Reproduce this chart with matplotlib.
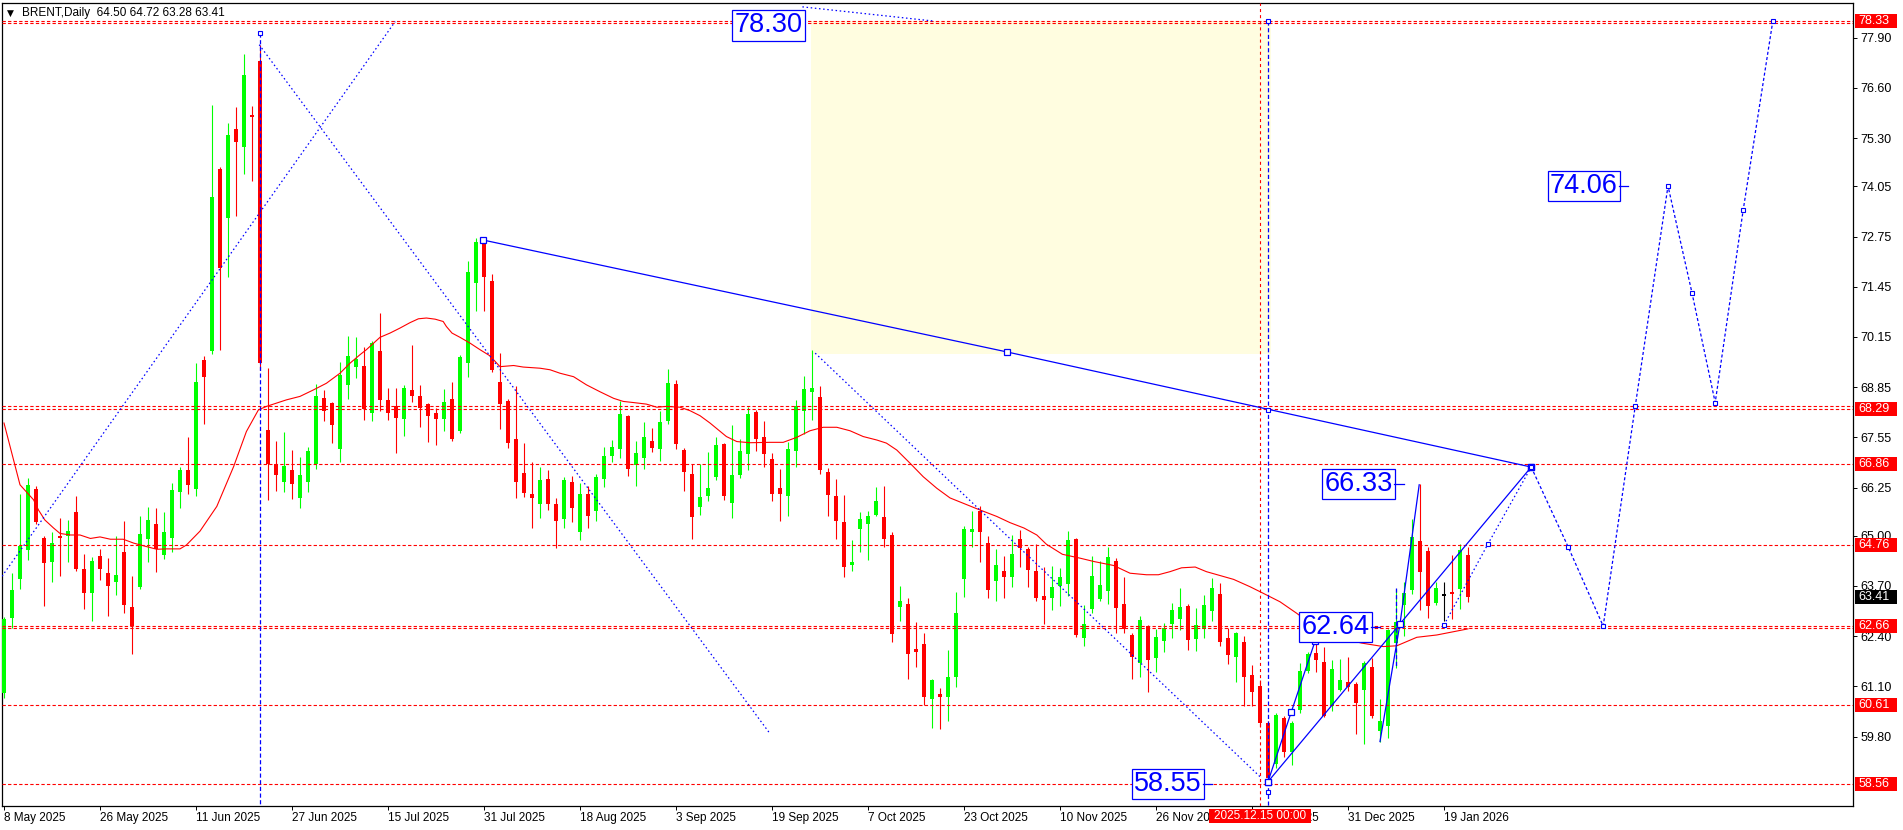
import numpy as np
import pandas as pd
import matplotlib
matplotlib.use("Agg")
import matplotlib.pyplot as plt
from matplotlib.patches import Rectangle

plt.rcParams['font.family'] = ['Liberation Sans', 'DejaVu Sans']
plt.rcParams['lines.scale_dashes'] = False

# ---------------- data ----------------
opens = [60.93, 62.88, 63.88, 64.63, 66.21, 64.94, 64.33, 64.99, 64.99, 65.62,
         64.14, 63.53, 64.48, 64.04, 63.81, 64.59, 63.16, 63.66, 64.92, 65.31,
         64.49, 64.95, 66.14, 66.71, 66.21, 69.56, 69.79, 74.50, 73.24, 75.54,
         75.08, 75.90, 77.31, 67.74, 66.86, 66.38, 66.71, 65.99, 66.38, 66.86,
         68.56, 68.43, 67.25, 68.91, 69.36, 69.40, 68.17, 69.79, 68.52, 68.36,
         68.03, 68.78, 68.61, 68.41, 68.17, 68.03, 68.55, 67.72, 69.48, 71.56,
         72.62, 71.60, 68.97, 68.49, 67.51, 66.62, 66.08, 65.83, 66.47, 65.83,
         65.43, 66.39, 65.11, 66.08, 65.63, 66.47, 67.07, 67.24, 68.09, 66.82,
         67.02, 67.46, 67.24, 67.96, 68.93, 67.22, 66.60, 65.74, 66.04, 66.53,
         67.38, 65.86, 66.58, 67.12, 68.20, 67.55, 66.99, 66.25, 66.04, 67.20,
         68.22, 68.73, 68.59, 66.65, 66.04, 65.35, 64.23, 65.17, 65.31, 65.54,
         65.48, 65.02, 63.15, 63.23, 62.07, 62.20, 60.77, 60.90, 60.82, 61.35,
         63.87, 65.11, 65.64, 64.81, 63.83, 64.09, 63.92, 64.92, 64.66, 64.09,
         63.45, 63.40, 63.71, 63.75, 64.92, 62.36, 63.11, 63.36, 63.57, 64.35,
         63.23, 62.43, 61.71, 62.65, 61.84, 62.28, 62.72, 62.85, 63.19, 62.33,
         62.58, 63.05, 63.49, 62.35, 61.87, 62.24, 61.40, 61.11, 60.16, 59.08,
         60.29, 59.41, 60.49, 61.50, 61.96, 61.74, 60.59, 61.01, 61.22, 61.16,
         61.01, 61.59, 59.93, 60.08, 62.22, 63.21, 63.60, 64.87, 64.61, 63.25,
         63.45, 63.54, 63.62, 64.50]
highs = [62.90, 64.04, 66.08, 66.50, 66.30, 65.00, 65.09, 65.45, 65.41, 66.04,
         64.53, 64.44, 64.65, 64.42, 64.99, 65.38, 63.96, 65.52, 65.75, 65.72,
         65.62, 66.36, 66.79, 67.55, 69.48, 69.66, 76.16, 74.55, 75.70, 76.10,
         77.48, 76.14, 77.72, 69.34, 67.46, 67.70, 67.21, 67.05, 67.31, 68.93,
         68.78, 68.47, 69.51, 70.18, 70.16, 69.90, 70.05, 70.77, 68.82, 68.84,
         68.91, 69.94, 68.91, 68.45, 68.30, 68.80, 68.97, 69.69, 72.12, 72.71,
         72.70, 71.78, 69.74, 68.55, 68.88, 67.41, 66.90, 66.77, 66.71, 65.99,
         66.53, 66.56, 66.36, 66.30, 66.60, 67.29, 67.48, 68.49, 68.12, 67.46,
         67.94, 67.80, 68.22, 69.32, 69.04, 67.27, 66.85, 66.85, 67.16, 67.55,
         67.41, 67.87, 67.50, 68.33, 68.25, 67.98, 67.15, 66.73, 67.44, 68.52,
         69.15, 69.82, 68.88, 66.75, 66.47, 66.06, 64.89, 65.61, 65.65, 66.26,
         66.29, 65.11, 63.70, 63.38, 62.76, 62.49, 61.29, 61.05, 62.04, 63.54,
         65.25, 65.63, 65.76, 65.00, 64.66, 64.48, 65.02, 65.15, 64.70, 64.78,
         64.20, 64.22, 64.17, 65.13, 64.95, 63.21, 64.48, 64.35, 64.70, 64.43,
         63.92, 62.49, 62.92, 62.69, 62.58, 62.73, 63.25, 63.64, 63.23, 63.12,
         63.47, 63.90, 63.77, 62.60, 62.50, 62.41, 61.65, 61.27, 60.20, 60.42,
         60.32, 60.19, 61.70, 62.00, 62.22, 62.13, 61.78, 61.80, 61.87, 61.22,
         61.76, 61.84, 60.77, 62.58, 63.62, 63.79, 65.43, 66.33, 64.72, 63.81,
         63.81, 64.49, 64.79, 64.72]
lows = [60.80, 62.61, 63.62, 64.36, 65.30, 63.17, 63.79, 63.97, 64.33, 64.10,
        63.10, 62.80, 63.86, 62.93, 63.47, 62.99, 61.93, 63.62, 64.32, 64.07,
        64.39, 64.59, 65.73, 66.09, 66.04, 67.89, 69.70, 69.82, 71.71, 73.27,
        74.37, 74.20, 69.30, 65.93, 66.17, 66.14, 65.95, 65.73, 66.14, 66.72,
        67.98, 67.41, 66.92, 68.55, 69.08, 68.00, 67.96, 68.23, 68.00, 67.15,
        67.59, 68.47, 67.83, 67.44, 67.34, 67.72, 67.45, 67.65, 69.12, 70.81,
        70.83, 69.25, 67.77, 67.28, 65.99, 66.01, 65.21, 65.47, 65.67, 64.69,
        65.21, 65.35, 64.89, 65.21, 65.37, 66.26, 66.90, 67.02, 66.55, 66.30,
        66.72, 67.16, 66.94, 67.89, 67.24, 66.17, 64.91, 65.55, 65.90, 66.45,
        65.93, 65.47, 66.50, 66.71, 67.20, 66.78, 65.90, 65.38, 65.51, 66.77,
        67.63, 68.00, 66.60, 65.51, 64.92, 63.92, 64.09, 64.59, 64.36, 65.50,
        64.70, 62.24, 62.80, 61.28, 61.59, 60.62, 60.01, 59.99, 60.19, 61.09,
        63.42, 64.72, 64.33, 63.40, 63.31, 63.40, 63.68, 64.20, 63.68, 63.31,
        62.72, 63.08, 63.19, 63.45, 62.39, 62.15, 62.99, 63.31, 63.23, 62.49,
        62.49, 61.29, 61.33, 60.95, 61.48, 62.00, 62.36, 62.56, 62.04, 62.02,
        62.36, 62.78, 62.15, 61.67, 61.20, 60.59, 60.59, 60.05, 58.55, 58.98,
        59.28, 59.06, 60.40, 61.45, 61.48, 60.31, 60.46, 60.99, 60.99, 59.86,
        59.61, 60.27, 59.67, 59.76, 61.57, 62.41, 63.50, 63.08, 62.88, 63.20,
        62.80, 62.84, 63.10, 63.28]
closes = [62.85, 63.60, 64.74, 66.32, 65.35, 64.30, 64.82, 64.93, 65.12, 64.14,
          63.53, 64.35, 64.13, 63.71, 63.99, 63.21, 62.67, 65.05, 65.41, 64.65,
          65.10, 66.19, 66.71, 66.32, 68.97, 69.12, 73.78, 71.93, 75.38, 75.19,
          76.94, 75.85, 69.47, 66.85, 66.57, 66.81, 66.34, 66.58, 67.20, 68.62,
          68.22, 67.87, 69.17, 69.66, 69.57, 68.29, 70.00, 68.52, 68.19, 68.06,
          68.82, 68.61, 68.32, 68.11, 68.03, 68.46, 67.51, 69.62, 71.84, 72.62,
          71.71, 69.30, 68.41, 67.41, 66.38, 66.10, 65.99, 66.45, 65.82, 65.39,
          66.45, 65.71, 66.08, 65.52, 66.52, 67.07, 67.29, 68.15, 66.72, 67.14,
          67.55, 67.28, 67.94, 68.95, 67.37, 66.64, 65.48, 66.00, 66.23, 67.35,
          66.03, 66.58, 67.20, 68.16, 67.51, 67.12, 66.08, 66.07, 67.25, 68.35,
          68.80, 68.83, 66.71, 66.06, 65.39, 64.20, 64.31, 65.43, 65.51, 65.90,
          64.91, 62.45, 63.31, 61.93, 62.00, 60.82, 61.27, 60.82, 61.34, 62.99,
          65.17, 65.17, 65.11, 63.60, 64.25, 63.92, 64.53, 64.69, 64.11, 63.40,
          63.34, 63.66, 63.94, 64.89, 62.43, 62.72, 63.96, 63.73, 64.46, 63.14,
          62.58, 61.87, 62.82, 61.77, 62.37, 62.60, 63.08, 63.16, 62.30, 62.69,
          63.21, 63.64, 62.26, 61.90, 62.47, 61.35, 60.96, 60.14, 58.72, 60.36,
          59.41, 60.14, 61.50, 61.94, 61.77, 60.33, 61.54, 61.27, 61.08, 60.66,
          61.71, 60.34, 60.19, 62.56, 62.76, 63.51, 64.96, 64.07, 63.17, 63.64,
          63.45, 63.49, 64.63, 63.41]

# moving average (bar position, value)
ma_pos = [0, 2, 3.7, 4.3, 5.1, 6.2, 7, 8.3, 9.5, 10.8, 12, 13.3, 14.9, 16.2, 17.8,
          19.1, 20.3, 22, 22.8, 24.5, 26.6, 28.7, 30.3, 31.8, 32.8, 35.3, 37, 38.7,
          40.3, 42, 43.25, 44.5, 45.3, 47, 48.25, 49.5, 50.75, 51.8, 52.8, 53.9,
          54.9, 55.3, 56, 57, 58.25, 59.5, 60.75, 62, 63.7, 64.9, 67, 68.25, 69.5,
          71.2, 72.8, 74.5, 76.2, 77.4, 78.7, 80.3, 81.6, 82.8, 84.5, 85.75, 87,
          88.25, 90.3, 91.6, 93.25, 95.75, 97.4, 99.1, 100.75, 102.4, 104.1,
          105.75, 107.4, 109.1, 110.3, 111.6, 113.25, 114.9, 116.6, 118.25,
          121.6, 124.1, 125.75, 127.5, 129.1, 130.3, 132.3, 134.5, 136.3, 138.7,
          140.75, 142.8, 144.3, 145.75, 147.2, 148.9, 150.3, 152, 153.7, 155.75,
          157.4, 159.5, 161.6, 164, 166.5, 169.7, 172.4, 174.1, 176.6, 179.1,
          182.8, 183]
ma_val = [67.92, 66.32, 65.93, 65.67, 65.41, 65.20, 65.06, 65.02, 65.02, 64.93,
          64.97, 64.91, 64.91, 64.81, 64.72, 64.65, 64.66, 64.66, 64.76, 65.12,
          65.76, 66.79, 67.70, 68.26, 68.35, 68.52, 68.61, 68.78, 68.95, 69.21,
          69.47, 69.69, 69.82, 70.14, 70.25, 70.38, 70.52, 70.62, 70.64, 70.61,
          70.55, 70.42, 70.25, 70.14, 69.99, 69.82, 69.66, 69.38, 69.41, 69.37,
          69.34, 69.30, 69.21, 69.12, 68.91, 68.73, 68.56, 68.48, 68.45, 68.41,
          68.33, 68.35, 68.33, 68.24, 68.11, 67.92, 67.57, 67.44, 67.41, 67.42,
          67.42, 67.55, 67.72, 67.81, 67.81, 67.72, 67.57, 67.48, 67.40, 67.22,
          66.88, 66.53, 66.23, 65.98, 65.70, 65.50, 65.34, 65.20, 65.02, 64.78,
          64.52, 64.42, 64.33, 64.23, 64.03, 63.99, 63.99, 64.07, 64.17, 64.19,
          64.07, 63.97, 63.87, 63.68, 63.51, 63.29, 62.99, 62.62, 62.38, 62.22,
          62.13, 62.15, 62.37, 62.43, 62.58, 62.59]

holidays = ["2025-12-25", "2026-01-01"]
symbol, timeframe = "BRENT", "Daily"

level_lines = [78.33, 78.27, 68.35, 68.29, 66.86, 64.76, 62.66, 62.60, 60.61, 58.56]
level_labels = [78.33, 68.29, 66.86, 64.76, 62.66, 60.61, 58.56]
price_ticks = [77.90, 76.60, 75.30, 74.05, 72.75, 71.45, 70.15, 68.85, 67.55,
               66.25, 65.00, 63.70, 62.40, 61.10, 59.80]
marked_date = "2025-12-15"

# drawn objects (bar index, price)
x_line_up = [(-0.25, 63.95), (48.9, 78.32)]
x_line_down = [(31.9, 77.72), (95.8, 59.86)]
down_line2 = [(101.4, 69.73), (157.2, 58.72)]
main_line = [(59.9, 72.66), (125.4, 69.76), (190.9, 66.78)]
zone = (100.9, 158.4, 69.70, 78.33)
arc_line = [(99.8, 78.70), (116.3, 78.33)]
vert_dash = [(32, 78.03), (158, 78.33)]
vert_marks = [(158, 68.26), (158, 58.35)]
leg_a = [(158.0, 58.63), (160.9, 60.43), (163.9, 62.28)]
leg_b = [(158.0, 58.63), (190.9, 66.78)]
leg_c = [(172.0, 59.67), (174.5, 62.72), (176.9, 66.32)]
leg_c_dash = [(174.0, 63.65), (174.0, 61.59)]
leg_d = [(180.0, 62.69), (185.5, 64.79), (190.9, 66.78)]
forecast = [(190.9, 66.78), (195.5, 64.72), (199.9, 62.66), (203.9, 68.35),
            (208.0, 74.06), (211.0, 71.29), (213.9, 68.45), (217.4, 73.44),
            (221.1, 78.33)]
price_notes = [("78.30", 99.8, 78.22, False), ("74.06", 201.7, 74.06, True),
               ("66.33", 173.6, 66.34, True), ("62.64", 170.7, 62.63, True),
               ("58.55", 149.7, 58.57, True)]

# ---------------- figure ----------------
W, H, DPI = 1903, 830, 100
fig = plt.figure(figsize=(W / DPI, H / DPI), dpi=DPI)
fig.patch.set_facecolor("white")
L, T, R, B = 2, 3, 1853, 806
ax = fig.add_axes([L / W, 1 - B / H, (R - L) / W, (B - T) / H])
X0_PX, BAR_PX = 4, 8
ax.set_xlim((L - X0_PX) / BAR_PX, (R - X0_PX) / BAR_PX)
ax.set_ylim(58.00, 78.80)
ax.set_facecolor("white")

BLUE = "#0000FF"
RED = "#FF0000"
LIME = "#00FF00"

dates = pd.bdate_range("2025-05-08", "2026-01-22")
dates = dates[~dates.isin(pd.to_datetime(holidays))]
n = len(opens)
dates = dates[:n]
bars = np.arange(n)

o = np.array(opens); c = np.array(closes)
h = np.array(highs); l = np.array(lows)
col = np.where(c > o, LIME, np.where(c < o, RED, "#000000"))

# yellow zone
ax.add_patch(Rectangle((zone[0], zone[2]), zone[1] - zone[0], zone[3] - zone[2],
                       facecolor="#FFFDE0", edgecolor="none", zorder=0.5))

# candles
ax.vlines(bars, l, h, colors=col, lw=0.8, zorder=3)
body_bot = np.minimum(o, c)
body_h = np.maximum(np.abs(c - o), 0.03)
ax.bar(bars, body_h, bottom=body_bot, width=0.6, color=col, linewidth=0, zorder=4)

# moving average
ax.plot(ma_pos, ma_val, color=RED, lw=0.8, zorder=5)

# horizontal levels
for v in level_lines:
    ax.axhline(v, color=RED, lw=0.8, ls=(0, (2.4, 1.6)), zorder=6)

# marked date vertical
mi = int(np.where(dates == pd.Timestamp(marked_date))[0][0])
ax.axvline(mi, color=RED, lw=0.8, ls=(0, (2.2, 2.2)), zorder=6)

def pts(seq):
    return [p[0] for p in seq], [p[1] for p in seq]

MK = dict(ls="none", marker="s", mfc="white", mec=BLUE, zorder=8)
dot = (0, (1.1, 1.9))
# blue dotted lines
for seg in (x_line_up, x_line_down, down_line2, arc_line):
    xs, ys = pts(seg)
    ax.plot(xs, ys, color=BLUE, lw=0.9, ls=dot, zorder=7)
# vertical dashed lines
for (bx, top) in vert_dash:
    ax.plot([bx, bx], [top, 58.0], color=BLUE, lw=0.9, ls=(0, (3, 1.8)), zorder=7)
    ax.plot([bx], [top], ms=3.5, mew=0.8, **MK)
xs, ys = pts(vert_marks)
ax.plot(xs, ys, ms=3.2, mew=0.8, **MK)

# solid blue lines
for seg in (main_line, leg_a, leg_b):
    xs, ys = pts(seg)
    ax.plot(xs, ys, color=BLUE, lw=0.9, zorder=7)
    ax.plot(xs, ys, ms=3.8, mew=0.9, **MK)
xs, ys = pts(leg_c)
ax.plot(xs, ys, color=BLUE, lw=0.9, zorder=7)
ax.plot(xs[1:2], ys[1:2], ms=3.8, mew=0.9, **MK)
xs, ys = pts(leg_c_dash)
ax.plot(xs, ys, color=BLUE, lw=0.9, ls=(0, (3, 1.8)), zorder=7)
xs, ys = pts(leg_d)
ax.plot(xs, ys, color=BLUE, lw=0.9, ls=dot, zorder=7)
ax.plot(xs[:2], ys[:2], ms=3, mew=0.8, **MK)

# forecast path
xs, ys = pts(forecast)
ax.plot(xs, ys, color=BLUE, lw=0.9, ls=(0, (2.2, 1.6)), zorder=7)
ax.plot(xs, ys, ms=3, mew=0.8, **MK)

# price notes
for txt, xr, pv, dash in price_notes:
    ax.text(xr, pv, txt, ha="right", va="center", fontsize=19.5, color=BLUE,
            bbox=dict(boxstyle="square,pad=0.08", fc="white", ec=BLUE, lw=0.9),
            zorder=9)
    if dash:
        ax.plot([xr + 0.15, xr + 1.35], [pv, pv], color=BLUE, lw=0.9, zorder=9)

# axes styling
for s in ax.spines.values():
    s.set_color("black")
    s.set_linewidth(0.9)
ax.yaxis.tick_right()
ax.set_yticks(price_ticks)
ax.set_yticklabels([f"{v:.2f}" for v in price_ticks])
ax.tick_params(axis="y", which="both", right=True, left=False, length=3, width=0.7,
               pad=2.5, labelsize=9, colors="black")
tick_idx = list(range(0, n, 12))
ax.set_xticks(tick_idx)
ax.set_xticklabels([f"{dates[i].day} {dates[i].strftime('%b %Y')}" for i in tick_idx])
ax.tick_params(axis="x", length=3, width=0.7, pad=1.5, labelsize=8.5, colors="black")
for lbl in ax.get_xticklabels():
    lbl.set_ha("left")

# price axis boxes
def fig_y(v):
    return ax.transData.transform((0, v))[1] / H

for v in level_labels:
    yy = fig_y(v)
    fig.add_artist(Rectangle((1855 / W, yy - 7 / H), 42 / W, 14 / H,
                             transform=fig.transFigure, facecolor=RED,
                             edgecolor="none", zorder=10))
    fig.text(1858.5 / W, yy, f"{v:.2f}", color="white", fontsize=9, va="center",
             ha="left", zorder=11)
yy = fig_y(closes[-1])
fig.add_artist(Rectangle((1855 / W, yy - 7 / H), 42 / W, 14 / H,
                         transform=fig.transFigure, facecolor="black",
                         edgecolor="none", zorder=10))
fig.text(1858.5 / W, yy, f"{closes[-1]:.2f}", color="white", fontsize=9, va="center",
         ha="left", zorder=11)

# marked date box on time axis
mx = ax.transData.transform((mi, 0))[0]
fig.add_artist(Rectangle(((mx - 51) / W, 7 / H), 102 / W, 14 / H,
                         transform=fig.transFigure, facecolor=RED,
                         edgecolor="none", zorder=10))
fig.text(mx / W, 14 / H, pd.Timestamp(marked_date).strftime("%Y.%m.%d %H:%M"),
         color="white", fontsize=8.5, va="center", ha="center", zorder=11)

# header
fig.text(7 / W, 1 - 13 / H, "\u25BC", fontsize=6.5, va="center", ha="left",
         family=["DejaVu Sans"])
fig.text(22 / W, 1 - 13 / H,
         f"{symbol},{timeframe}  {opens[-1]:.2f} {highs[-1]:.2f} {lows[-1]:.2f} {closes[-1]:.2f}",
         fontsize=8.5, va="center", ha="left")

fig.savefig("out.png", dpi=DPI, facecolor="white")
